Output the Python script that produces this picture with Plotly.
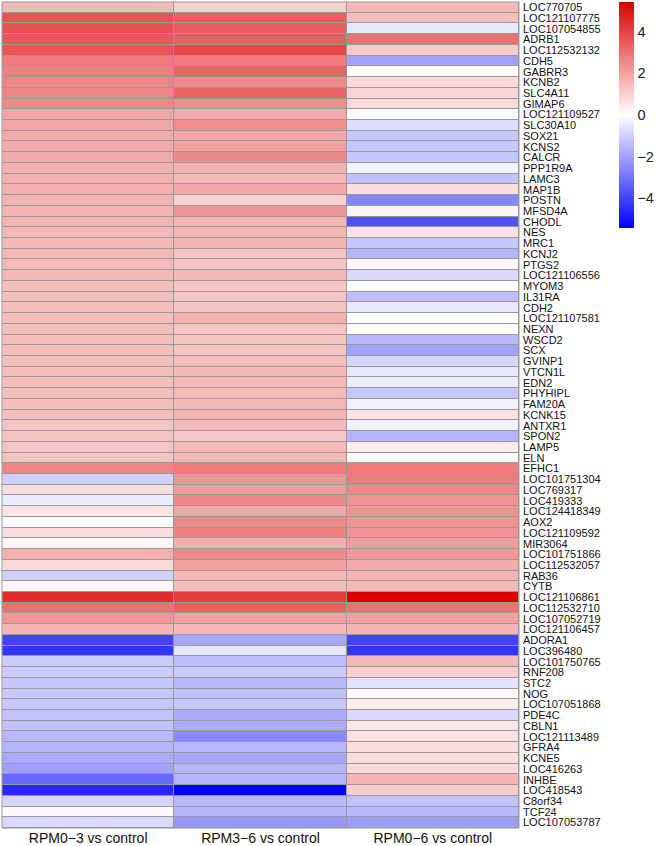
import plotly.graph_objects as go

genes = ["LOC770705","LOC121107775","LOC107054855","ADRB1","LOC112532132","CDH5","GABRR3","KCNB2",
"SLC4A11","GIMAP6","LOC121109527","SLC30A10","SOX21","KCNS2","CALCR","PPP1R9A","LAMC3","MAP1B",
"POSTN","MFSD4A","CHODL","NES","MRC1","KCNJ2","PTGS2","LOC121106556","MYOM3","IL31RA","CDH2",
"LOC121107581","NEXN","WSCD2","SCX","GVINP1","VTCN1L","EDN2","PHYHIPL","FAM20A","KCNK15","ANTXR1",
"SPON2","LAMP5","ELN","EFHC1","LOC101751304","LOC769317","LOC419333","LOC124418349","AOX2",
"LOC121109592","MIR3064","LOC101751866","LOC112532057","RAB36","CYTB","LOC121106861","LOC112532710",
"LOC107052719","LOC121106457","ADORA1","LOC396480","LOC101750765","RNF208","STC2","NOG",
"LOC107051868","PDE4C","CBLN1","LOC121113489","GFRA4","KCNE5","LOC416263","INHBE","LOC418543",
"C8orf34","TCF24","LOC107053787"]

comparisons = ["RPM0\u22123 vs control", "RPM3\u22126 vs control", "RPM0\u22126 vs control"]

rpm0_3 = [1.5,3.7,3.7,3.5,3.6,2.8,2.7,2.6,2.6,2.5,1.9,1.9,1.8,1.8,1.8,1.7,1.7,1.7,1.6,1.6,1.6,
1.5,1.5,1.5,1.5,1.5,1.4,1.4,1.4,1.4,1.4,1.4,1.4,1.4,1.4,1.4,1.4,1.4,1.4,1.3,1.3,1.3,1.3,
2.6,-1.0,0.7,-0.4,0.6,-0.15,0.7,0.2,1.7,0.8,-1.0,0.2,4.5,3.0,2.2,1.6,-4.0,-4.3,-1.1,-1.1,
-1.2,-1.2,-1.2,-1.3,-1.3,-1.5,-1.6,-1.8,-2.0,-3.2,-4.6,-0.9,0.15,-0.8]

rpm3_6 = [1.0,3.4,3.4,3.4,3.9,2.8,3.3,2.5,3.3,2.4,1.8,2.4,1.8,2.0,2.5,1.6,1.5,1.9,1.0,2.3,1.6,
1.6,1.6,1.3,1.3,1.5,1.3,1.3,1.3,1.7,1.3,1.3,1.3,1.4,1.5,1.5,1.5,1.5,1.6,1.5,1.2,1.5,1.5,
2.8,2.3,2.1,2.5,1.9,2.5,2.7,1.7,2.5,2.0,1.5,1.4,4.1,3.4,2.0,1.5,-1.9,-0.5,-1.4,-1.1,
-1.5,-1.3,-1.2,-1.8,-1.8,-2.5,-1.5,-1.9,-1.6,-1.6,-5.42,-1.5,-1.6,-2.2]

rpm0_6 = [1.5,1.4,-0.5,3.0,1.1,-2.0,0.0,0.8,0.9,0.8,-0.1,-0.7,-1.2,-1.2,-1.2,-0.3,-1.3,0.7,-2.6,0.2,-3.7,
0.6,-1.2,-1.6,0.2,-0.8,0.0,-1.4,-0.5,0.05,0.0,-1.5,-2.0,-0.9,-0.5,-0.4,-1.2,-0.3,0.6,-0.3,-1.6,0.4,0.1,
2.8,2.8,2.5,2.3,2.3,2.3,2.3,2.1,2.2,1.8,1.6,1.5,5.42,3.0,2.0,1.6,-4.0,-4.3,1.5,1.0,
-0.6,0.15,0.4,-0.8,0.5,0.6,0.7,0.7,0.8,1.6,1.1,-1.3,-1.5,-2.1]

z = [[a, b, c] for a, b, c in zip(rpm0_3, rpm3_6, rpm0_6)]

W, H = 658, 846
L, T, R, B = 2, 2, 139, 18
FONT = "Liberation Sans, Arial, Helvetica, sans-serif"

fig = go.Figure(go.Heatmap(
    z=z, x=comparisons, y=genes,
    colorscale=[[0, "rgb(0,0,255)"], [0.5, "rgb(255,255,255)"], [1, "rgb(220,0,0)"]],
    zmin=-5.42, zmax=5.42,
    xgap=1, ygap=1,
    colorbar=dict(
        xref="container", x=619/W, xanchor="left",
        yref="container", y=1 - 2/H, yanchor="top",
        lenmode="pixels", len=226, thickness=15,
        outlinewidth=0, ticks="", tickvals=[-4, -2, 0, 2, 4],
        ticktext=["\u22124", "\u22122", "0", "2", "4"],
        tickfont=dict(family=FONT, size=14.5, color="#222222"),
        ypad=0, xpad=0,
    ),
    hoverinfo="skip",
))

fig.update_layout(
    width=W, height=H,
    margin=dict(l=L, r=R, t=T, b=B, pad=0),
    plot_bgcolor="#999999", paper_bgcolor="white",
    font=dict(family=FONT, color="#111111"),
)
fig.update_yaxes(
    autorange="reversed", side="right", showgrid=False, zeroline=False,
    tickmode="array", tickvals=genes, ticktext=genes, automargin=False,
    ticks="", ticklabelstandoff=3, tickfont=dict(family=FONT, size=11, color="#111111"),
)
fig.update_xaxes(
    showgrid=False, zeroline=False, ticks="", ticklabelstandoff=0, automargin=False,
    tickfont=dict(family=FONT, size=14, color="#111111"),
)
fig.add_shape(type="rect", xref="paper", yref="paper", x0=0, x1=1, y0=0, y1=1,
              line=dict(color="#999999", width=1))

fig.write_html("out.html")
